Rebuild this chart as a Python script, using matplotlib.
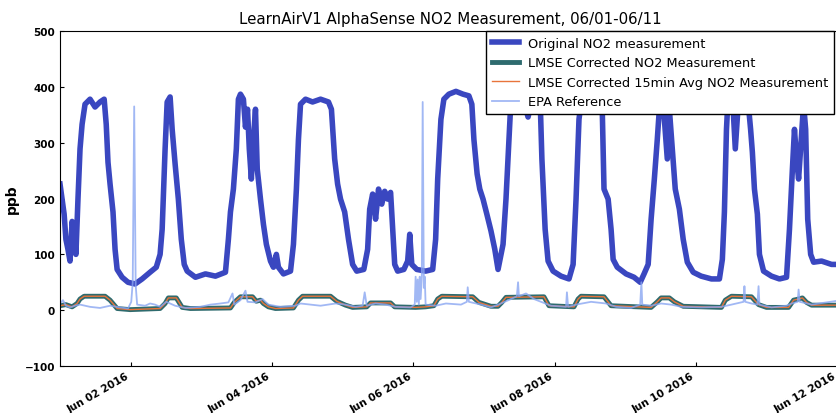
import matplotlib
matplotlib.use("Agg")
import matplotlib.pyplot as plt
import matplotlib.dates as mdates
import numpy as np
import pandas as pd

start = pd.Timestamp("2016-06-01 00:00")

# hours since Jun 01 00:00, ppb
orig_hours = [0, 0.7, 1.4, 2.0, 2.7, 3.4, 4.1, 4.8, 5.4, 6.1, 6.8, 7.5, 8.5, 10.2, 11.9, 13.6,
              15.0, 15.7, 16.3, 17.0, 18.0, 18.7, 19.4, 21.1, 23.1, 25.5, 27.9, 30.6, 32.7, 34.0,
              34.7, 35.7, 36.4, 37.4, 38.1, 39.1, 40.2, 41.2, 42.2, 43.2, 46.0, 49.4, 52.8, 56.2,
              57.2, 57.9, 58.9, 59.9, 60.6, 61.3, 62.3, 63.0, 63.7, 64.3, 65.0, 65.7, 66.4, 67.0,
              68.1, 69.1, 70.1, 71.5, 72.5, 73.5, 74.2, 75.9, 78.3, 79.3, 80.3, 81.0, 81.7, 83.4,
              85.8, 88.5, 91.2, 92.2, 93.3, 94.3, 95.3, 96.7, 98.0, 99.4, 100.8, 103.2, 104.5,
              105.2, 106.2, 107.2, 108.2, 109.3, 110.3, 111.3, 112.3, 113.0, 113.7, 114.7, 116.8,
              118.1, 118.8, 119.5, 121.2, 124.2, 126.6, 127.6, 128.3, 129.4, 130.4, 132.1, 134.5,
              136.9, 138.9, 139.9, 140.6, 141.7, 142.6, 143.7, 145.0, 146.4, 147.7, 148.8, 150.5,
              151.5, 152.5, 153.2, 154.5, 156.6, 159.0, 161.0, 163.1, 163.7, 164.8, 165.8, 167.5,
              170.2, 172.9, 174.3, 175.3, 176.3, 177.4, 180.4, 183.1, 184.2, 184.8, 186.2, 187.2,
              187.9, 189.3, 192.3, 195.0, 197.1, 198.4, 199.8, 200.8, 201.9, 202.9, 203.6, 204.6,
              205.3, 206.3, 207.0, 208.0, 209.0, 210.4, 211.7, 213.1, 215.1, 217.8, 221.3, 224.0,
              225.0, 225.7, 226.4, 227.0, 228.4, 229.4, 230.5, 232.2, 233.5, 234.6, 235.2, 235.9,
              236.9, 237.6, 239.0, 241.7, 244.4, 246.8, 247.8, 248.8, 249.5, 250.2, 250.9, 251.6,
              252.6, 253.3, 254.0, 255.0, 256.0, 258.7, 262.1, 265.5]
orig_ppb = [226, 199, 172, 127, 109, 88, 159, 136, 100, 199, 289, 333, 369, 378, 364, 373,
            378, 333, 265, 226, 176, 109, 73, 59, 50, 47, 56, 68, 77, 100,
            145, 289, 373, 382, 324, 262, 199, 127, 82, 70, 59, 65, 61, 68,
            127, 176, 217, 289, 378, 387, 378, 328, 360, 289, 235, 306, 360, 253,
            199, 154, 118, 88, 77, 100, 77, 65, 70, 118, 217, 306, 369, 378,
            373, 378, 373, 360, 271, 226, 199, 176, 127, 82, 70, 73, 109,
            181, 208, 163, 217, 190, 213, 199, 211, 145, 82, 70, 73,
            88, 136, 82, 73, 70, 73, 127, 235, 342, 378, 387, 392,
            387, 384, 369, 306, 244, 217, 199, 172, 142, 109, 73, 118,
            199, 306, 378, 396, 392, 346, 392, 378, 271, 145, 88, 70,
            61, 56, 82, 199, 342, 387, 392, 387, 360, 217, 199, 145,
            91, 77, 65, 59, 50, 65, 82, 163, 235, 306, 360, 392,
            342, 271, 360, 289, 217, 181, 127, 86, 68, 61, 56, 56,
            91, 176, 324, 387, 387, 289, 378, 392, 387, 324, 283, 217,
            172, 100, 70, 61, 56, 59, 145, 253, 324, 271, 235, 289,
            369, 324, 163, 100, 86, 88, 82, 82]

corr_hours = [0, 2.0, 4.1, 5.8, 6.8, 8.2, 15.3, 17.0, 19.4, 23.8, 34.0, 35.7, 36.8, 39.5, 41.5,
              44.3, 57.9, 59.2, 61.3, 65.4, 66.7, 68.1, 69.1, 70.8, 73.2, 79.3, 81.0, 82.4, 91.9,
              94.0, 97.0, 99.4, 104.2, 105.5, 112.3, 113.7, 120.8, 124.2, 127.0, 128.3, 129.7,
              140.2, 142.3, 146.4, 148.8, 150.1, 151.5, 164.4, 166.1, 174.6, 176.0, 177.0, 184.8,
              187.2, 200.8, 202.9, 204.2, 207.0, 208.7, 211.7, 224.7, 226.0, 228.1, 234.9, 237.3,
              240.0, 247.5, 249.2, 250.9, 252.2, 253.6, 255.3, 265.5]
corr_ppb = [8, 10, 6, 12, 20, 25, 25, 18, 3, 1, 3, 12, 22, 22, 5,
            3, 4, 14, 24, 24, 16, 18, 12, 6, 3, 4, 18, 25, 25,
            16, 9, 5, 6, 13, 13, 6, 5, 6, 8, 20, 25,
            24, 14, 7, 7, 14, 23, 24, 8, 6, 20, 25, 24,
            8, 5, 15, 22, 22, 15, 7, 5, 18, 25, 24, 10,
            5, 5, 18, 20, 22, 14, 9, 9]

avg15_hours = corr_hours
avg15_ppb = corr_ppb

epa_hours = [0, 1.0, 2.0, 3.4, 5.1, 6.8, 10.2, 13.6, 17.0, 20.4, 23.1, 24.2, 24.7, 25.2, 25.7,
             26.2, 28.9, 30.6, 32.3, 34.0, 36.1, 37.4, 39.1, 42.6, 47.7, 51.1, 54.5, 57.2, 58.6,
             59.2, 61.3, 63.0, 63.7, 66.4, 68.8, 70.8, 74.9, 80.0, 81.7, 88.5, 93.6, 97.0, 100.4,
             102.8, 103.5, 104.2, 107.2, 110.6, 114.0, 119.1, 120.5, 120.8, 121.2, 121.5, 121.9,
             122.2, 122.5, 122.9, 123.2, 123.6, 123.9, 124.2, 127.6, 131.1, 136.2, 138.2, 138.5,
             138.9, 143.0, 146.4, 149.8, 153.2, 155.2, 155.6, 155.9, 158.3, 161.0, 163.4, 166.8,
             171.9, 172.2, 172.6, 175.3, 180.4, 185.5, 188.9, 194.0, 197.1, 197.5, 197.8, 200.8,
             204.2, 207.6, 211.1, 217.8, 224.7, 228.1, 232.2, 232.5, 232.8, 234.9, 236.9, 237.3,
             237.6, 241.7, 246.8, 248.6, 250.6, 250.9, 251.3, 255.3, 260.4, 265.5]
epa_ppb = [12, 18, 8, 5, 8, 10, 6, 4, 8, 5, 3, 15, 50, 365, 45,
           10, 8, 12, 10, 6, 15, 12, 8, 4, 6, 10, 12, 14, 30,
           10, 18, 35, 15, 14, 20, 10, 6, 8, 12, 8, 12, 10, 6,
           8, 32, 8, 12, 10, 6, 5, 10, 60, 15, 55, 10,
           60, 20, 60, 373, 40, 60, 10, 8, 12, 10, 15, 41,
           15, 10, 5, 12, 20, 25, 50, 25, 30, 20, 15, 8,
           6, 32, 6, 10, 15, 12, 6, 4, 10, 50, 10, 8,
           12, 10, 6, 5, 6, 10, 15, 43, 15, 12, 10, 43,
           10, 5, 8, 12, 15, 37, 15, 10, 14, 18]


def to_time(hours):
    return start + pd.to_timedelta(np.array(hours), unit="h")


fig = plt.figure(figsize=(8.37, 4.14), dpi=100)
ax = fig.add_axes([0.0717, 0.1135, 0.932, 0.809])

ax.plot(to_time(orig_hours), orig_ppb, color="#3a47c0", lw=4, label="Original NO2 measurement")
ax.plot(to_time(corr_hours), corr_ppb, color="#2e6b6e", lw=3.5, label="LMSE Corrected NO2 Measurement")
ax.plot(to_time(avg15_hours), avg15_ppb, color="#e8743b", lw=1, label="LMSE Corrected 15min Avg NO2 Measurement")
ax.plot(to_time(epa_hours), epa_ppb, color="#8aa6f2", lw=1.3, alpha=0.8, label="EPA Reference")

ax.set_xlim(start, start + pd.Timedelta(hours=265))
ax.set_ylim(-100, 500)
ax.set_yticks([-100, 0, 100, 200, 300, 400, 500])
ax.xaxis.set_major_locator(mdates.DayLocator(bymonthday=[2, 4, 6, 8, 10, 12]))
ax.xaxis.set_major_formatter(mdates.DateFormatter("%b %d %Y"))
for lab in ax.get_xticklabels():
    lab.set_rotation(30)
    lab.set_ha("right")
    lab.set_fontsize(7.5)
    lab.set_fontweight("bold")
for lab in ax.get_yticklabels():
    lab.set_fontsize(7.5)
    lab.set_fontweight("bold")
ax.tick_params(direction="in", length=3)

ax.set_ylabel("ppb", fontsize=10, fontweight="bold")
ax.set_title("LearnAirV1 AlphaSense NO2 Measurement, 06/01-06/11", fontsize=10.8)

leg = ax.legend(loc="upper right", bbox_to_anchor=(0.992, 1.0), fontsize=9.3, borderaxespad=0,
                fancybox=False, framealpha=1, handlelength=2.1, handletextpad=0.7,
                labelspacing=0.5, borderpad=0.45)
leg.get_frame().set_edgecolor("black")

fig.savefig("out.png", dpi=100)
